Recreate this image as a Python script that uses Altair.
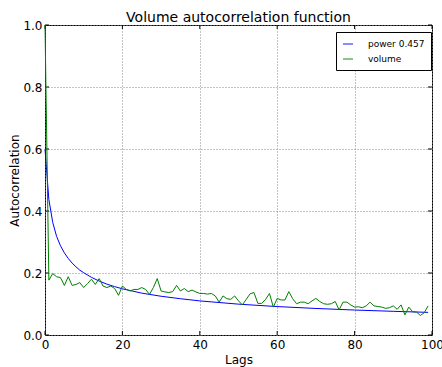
import altair as alt
import pandas as pd

# Fitted power-law curve
fit_lags = [0, 1, 2, 3, 4, 5, 6, 7, 8, 9, 10, 12, 14, 16, 18, 20, 25, 30, 35, 40,
            50, 60, 70, 80, 90, 99]
fit_vals = [0.600, 0.437, 0.363, 0.318, 0.288, 0.265, 0.247, 0.232, 0.220, 0.209,
            0.201, 0.186, 0.174, 0.164, 0.156, 0.149, 0.135, 0.125, 0.117, 0.110,
            0.0995, 0.0917, 0.0856, 0.0805, 0.0764, 0.073]

# Volume autocorrelation, lags 0..99
vol_lags = list(range(100))
vol_vals = [1.0, 0.177, 0.198, 0.188, 0.185, 0.160, 0.188, 0.160, 0.163, 0.169,
            0.153, 0.166, 0.180, 0.163, 0.182, 0.158, 0.153, 0.158, 0.150, 0.128,
            0.158, 0.147, 0.142, 0.147, 0.147, 0.153, 0.147, 0.131, 0.153, 0.182,
            0.142, 0.139, 0.137, 0.140, 0.160, 0.142, 0.150, 0.140, 0.145, 0.139,
            0.134, 0.134, 0.132, 0.134, 0.126, 0.106, 0.126, 0.117, 0.115, 0.126,
            0.110, 0.097, 0.115, 0.133, 0.137, 0.102, 0.102, 0.115, 0.134, 0.090,
            0.118, 0.113, 0.113, 0.140, 0.117, 0.101, 0.106, 0.106, 0.101, 0.110,
            0.118, 0.108, 0.101, 0.099, 0.101, 0.108, 0.081, 0.106, 0.106, 0.097,
            0.090, 0.091, 0.088, 0.094, 0.106, 0.094, 0.092, 0.090, 0.086, 0.088,
            0.094, 0.083, 0.097, 0.065, 0.090, 0.075, 0.074, 0.063, 0.072, 0.094]

series_names = ["power 0.457", "volume"]
series_colors = ["#0000ff", "#008000"]
x_ticks = [0, 20, 40, 60, 80, 100]
y_ticks = [0.0, 0.2, 0.4, 0.6, 0.8, 1.0]

W, H = 387, 310
FONT = "DejaVu Sans"

data = pd.concat([
    pd.DataFrame({"lag": fit_lags, "acf": fit_vals, "series": series_names[0]}),
    pd.DataFrame({"lag": vol_lags, "acf": vol_vals, "series": series_names[1]}),
], ignore_index=True)
xt = pd.DataFrame({"lag": x_ticks})
yt = pd.DataFrame({"acf": y_ticks})

xscale = alt.Scale(domain=[0, 100], nice=False, zero=False)
yscale = alt.Scale(domain=[0, 1], nice=False)

common_axis = dict(
    ticks=False, domain=False, grid=True, labelFlush=False, labelOverlap=False,
    labelFont=FONT, titleFont=FONT, labelFontSize=12, titleFontSize=12,
    labelColor="black", titleColor="black", titleFontWeight="normal",
    gridColor="#888888", gridDash=[1, 2], gridWidth=1,
)
x_axis = alt.Axis(values=x_ticks, format="d", title="Lags",
                  labelPadding=4, titlePadding=4, **common_axis)
y_axis = alt.Axis(values=y_ticks, format=".1f", title="Autocorrelation",
                  labelPadding=3, titlePadding=1, **common_axis)

x_enc = alt.X("lag:Q", scale=xscale, axis=x_axis)
y_enc = alt.Y("acf:Q", scale=yscale, axis=y_axis)

color = alt.Color(
    "series:N",
    scale=alt.Scale(domain=series_names, range=series_colors),
    legend=alt.Legend(
        title=None, orient="none", legendX=291, legendY=7,
        fillColor="white", strokeColor="black", padding=6,
        symbolType="stroke", symbolStrokeWidth=2, symbolOpacity=0.45,
        symbolSize=100,
        labelFontSize=9, labelFont=FONT, labelColor="black",
        rowPadding=4, labelOffset=14, cornerRadius=0,
    ),
)

tick_len = 4
xt_bot = alt.Chart(xt).mark_rule(color="black", strokeWidth=1).encode(
    x=x_enc, y=alt.value(H), y2=alt.value(H - tick_len))
xt_top = alt.Chart(xt).mark_rule(color="black", strokeWidth=1).encode(
    x=x_enc, y=alt.value(0), y2=alt.value(tick_len))
yt_left = alt.Chart(yt).mark_rule(color="black", strokeWidth=1).encode(
    y=y_enc, x=alt.value(0), x2=alt.value(tick_len))
yt_right = alt.Chart(yt).mark_rule(color="black", strokeWidth=1).encode(
    y=y_enc, x=alt.value(W), x2=alt.value(W - tick_len))

lines = alt.Chart(data).mark_line(strokeWidth=1).encode(
    x=x_enc, y=y_enc, color=color, order="lag:Q")

chart = alt.layer(xt_bot, xt_top, yt_left, yt_right, lines).properties(
    width=W, height=H,
    title=alt.TitleParams("Volume autocorrelation function", fontSize=14,
                          fontWeight="normal", font=FONT, color="black", offset=-6),
    autosize=alt.AutoSizeParams(type="none"),
    padding={"left": 45, "top": 25, "right": 10, "bottom": 32},
    background="white",
).configure_view(stroke="black", strokeWidth=1)

chart.save("out.html", embed_options={"renderer": "svg", "actions": False})
